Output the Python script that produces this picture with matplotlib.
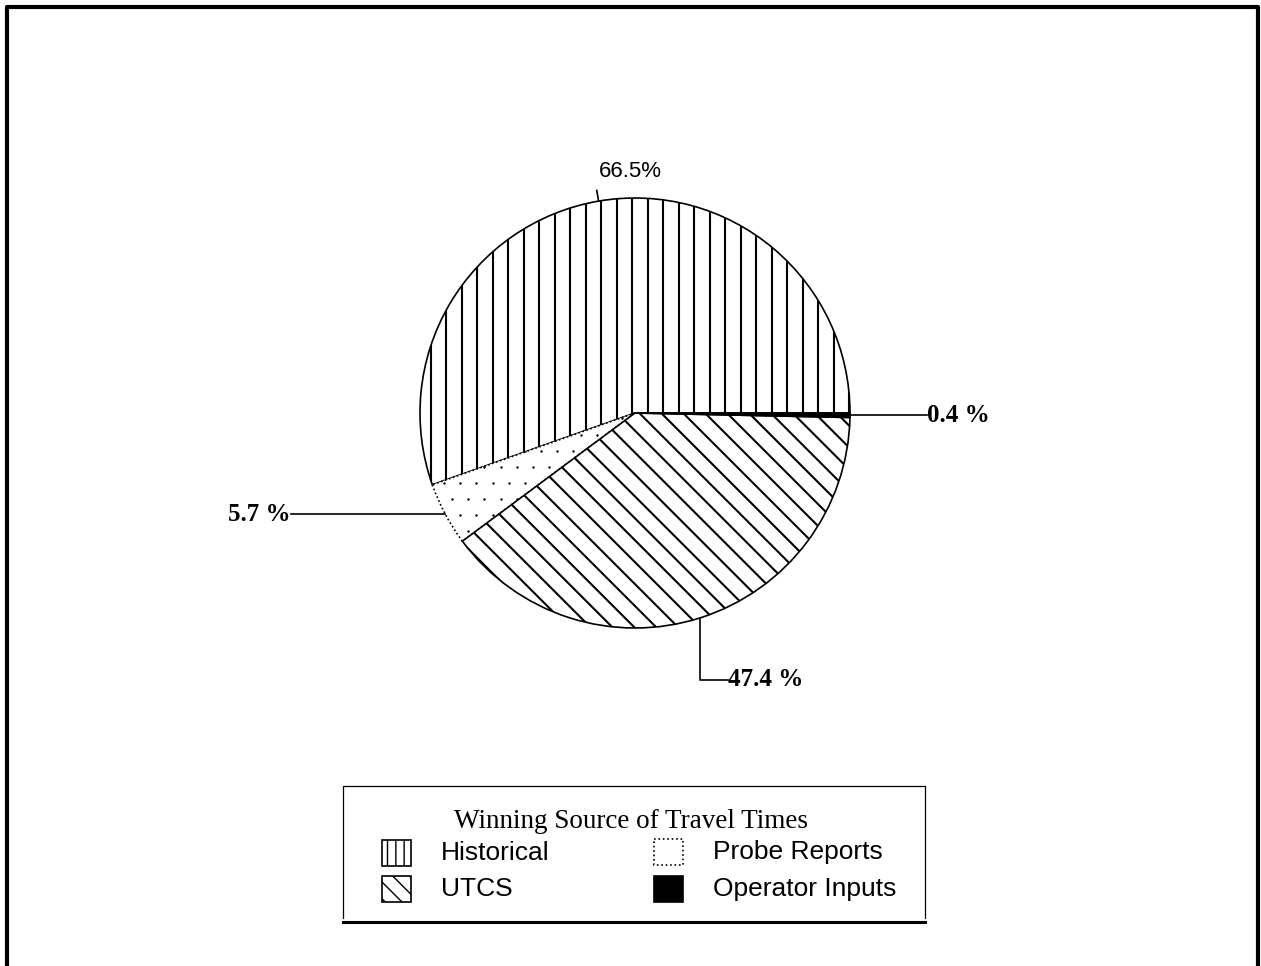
import numpy as np
import matplotlib
matplotlib.use('Agg')
import matplotlib.pyplot as plt
from matplotlib.collections import LineCollection
from matplotlib.lines import Line2D
from matplotlib.patches import Rectangle

# winning source shares, in percent (counter-clockwise from 3 o'clock)
sources = ['Historical', 'Probe Reports', 'UTCS', 'Operator Inputs']
shares = [66.5, 5.7, 47.4, 0.4]
label_fmt = ['{:.1f}%', '{:.1f} %', '{:.1f} %', '{:.1f} %']
legend_title = 'Winning Source of Travel Times'

W, H = 1261, 966
SERIF = ['Liberation Serif', 'DejaVu Serif']
SANS = ['Liberation Sans', 'DejaVu Sans']


def px_box(x0, y0, x1, y1):
    # pixel rectangle (top-left origin) -> figure fraction rect
    return [x0 / W, 1 - y1 / H, (x1 - x0) / W, (y1 - y0) / H]


def line_hatch(ax, wedge, angle, step, lw=1.5):
    # parallel lines across the pie, clipped to one wedge
    a = np.deg2rad(angle)
    u = np.array([np.cos(a), np.sin(a)])
    n = np.array([-u[1], u[0]])
    segs = [[o * n - 1.5 * u, o * n + 1.5 * u] for o in np.arange(-1.5, 1.5, step)]
    lc = LineCollection(segs, colors='black', linewidths=lw)
    ax.add_collection(lc, autolim=False)
    lc.set_clip_path(wedge)


def dot_fill(ax, wedge, step):
    pts = []
    for j, y in enumerate(np.arange(-1, 1, step)):
        for x in np.arange(-1 + (j % 2) * step / 2, 1, step):
            pts.append((x, y))
    pts = np.array(pts)
    sc = ax.scatter(pts[:, 0], pts[:, 1], s=3, c='black', linewidths=0)
    sc.set_clip_path(wedge)


fig = plt.figure(figsize=(W / 100, H / 100), dpi=100)

# page frame (open at the bottom)
fig.add_artist(Line2D([7 / W, 7 / W, 1258 / W, 1258 / W], [0, 1 - 7 / H, 1 - 7 / H, 0],
                      transform=fig.transFigure, color='black', linewidth=3))

ax = fig.add_axes(px_box(420, 198, 850, 628))
wedges, _ = ax.pie(shares, startangle=0, counterclock=True,
                   colors=['white', 'white', 'white', 'black'],
                   wedgeprops=dict(edgecolor='black', linewidth=1.2))
step = 15.5 / 215
line_hatch(ax, wedges[0], 90, step)
line_hatch(ax, wedges[2], -45, step)
dot_fill(ax, wedges[1], 0.075)
wedges[1].set_linestyle((0, (1, 1.5)))
ax.set_xlim(-1, 1)
ax.set_ylim(-1, 1)
ax.axis('off')

mids = [np.deg2rad((w.theta1 + w.theta2) / 2) for w in wedges]
texts = [f.format(v) for f, v in zip(label_fmt, shares)]
bold = dict(family=SERIF, fontweight='bold', fontsize=18)
lk = dict(color='black', linewidth=1.2, clip_on=False)

# Historical: short tick above the rim, small sans label
cx, cy = np.cos(mids[0]), np.sin(mids[0])
ax.plot([cx, cx * 1.05], [cy, cy * 1.05], **lk)
ax.text(cx * 1.05 + 0.01, cy * 1.05 + 0.04, texts[0], family=SANS, fontsize=16,
        ha='left', va='bottom')

# Probe Reports: horizontal leader to the left
cx, cy = np.cos(mids[1]), np.sin(mids[1])
ax.plot([cx, -1.6], [cy, cy], **lk)
ax.text(-1.6, cy, texts[1], ha='right', va='center', **bold)

# UTCS: elbow leader below the pie
cx, cy = np.cos(mids[2]), np.sin(mids[2])
ax.plot([cx, cx, cx + 0.13], [cy, -1.24, -1.24], **lk)
ax.text(cx + 0.13, -1.24, texts[2], ha='left', va='center', **bold)

# Operator Inputs: horizontal leader to the right
cx, cy = np.cos(mids[3]), np.sin(mids[3])
ax.plot([cx, 1.36], [cy, cy], **lk)
ax.text(1.36, cy, texts[3], ha='left', va='center', **bold)

# legend box drawn in pixel units
lax = fig.add_axes(px_box(343, 785, 925, 925))
lax.set_xlim(343, 925)
lax.set_ylim(925, 785)
lax.axis('off')
lax.plot([343, 343, 925, 925], [918, 786, 786, 918], color='black', linewidth=0.9, clip_on=False)
lax.plot([343, 925], [922, 922], color='black', linewidth=2.2, clip_on=False)
lax.text(631, 822, legend_title, family=SERIF, fontsize=19.5, ha='center', va='center')

handles = [
    dict(xy=(382, 840), hatch='||', fc='white', ls='-'),
    dict(xy=(654, 839), hatch=None, fc='white', ls=':'),
    dict(xy=(382, 876), hatch='\\\\', fc='white', ls='-'),
    dict(xy=(654, 876), hatch=None, fc='black', ls='-'),
]
for name, h in zip(sources, handles):
    x, y = h['xy']
    lax.add_patch(Rectangle((x, y), 29, 26, facecolor=h['fc'], edgecolor='black',
                            hatch=h['hatch'], linestyle=h['ls'], linewidth=1.2))
    lax.text(x + 59, y + 13, name, family=SANS, fontsize=19, ha='left', va='center')

fig.savefig('out.png', dpi=100, facecolor='white')
